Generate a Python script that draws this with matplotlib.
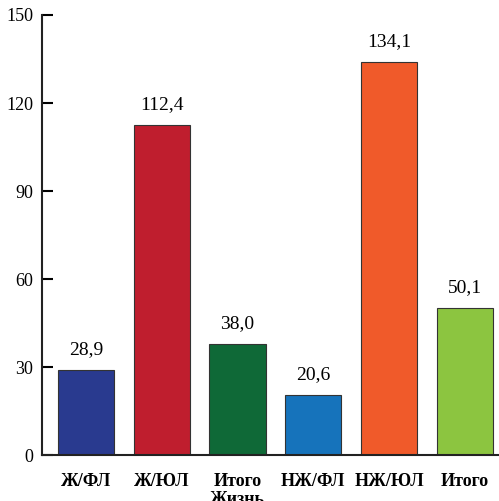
import numpy as np
import matplotlib.pyplot as plt
import matplotlib as mp

categories = ['Ж/ФЛ', 'Ж/ЮЛ', 'Итого\nЖизнь', 'НЖ/ФЛ', 'НЖ/ЮЛ', 'Итого']
values = [28.9, 112.4, 38.0, 20.6, 134.1, 50.1]
value_labels = ['28,9', '112,4', '38,0', '20,6', '134,1', '50,1']
colors = ['#293a8f', '#bf1e2e', '#0f6937', '#1673bb', '#f05a2a', '#8cc540']
yticks = [0, 30, 60, 90, 120, 150]

mp.rc('font', family='Liberation Serif')

fig = plt.figure(figsize=(4.99, 5.01), dpi=100)
ax = fig.add_axes([42/499, 46/501, 1 - 42/499, (455 - 15)/501])

x = np.arange(len(categories))
bars = ax.bar(x, values, width=0.74, color=colors, edgecolor='#333333', linewidth=0.8, zorder=2)

for xi, v, lab in zip(x, values, value_labels):
    ax.annotate(lab, xy=(xi, v), xytext=(0, 8.5), textcoords='offset points',
                ha='center', va='bottom', fontsize=14)

ax.set_xlim(-0.58, 5.45)
ax.set_ylim(0, 150)
ax.set_yticks(yticks)
ax.set_xticks(x)
ax.set_xticklabels(categories, fontsize=13, fontweight='bold', linespacing=1.05)
ax.tick_params(axis='x', length=0, pad=13)
ax.tick_params(axis='y', direction='in', length=8, width=1.5, pad=6.5, labelsize=13)

for s in ['top', 'right']:
    ax.spines[s].set_visible(False)
for s in ['left', 'bottom']:
    ax.spines[s].set_linewidth(1.5)
    ax.spines[s].set_color('#222222')

plt.savefig('out.png', dpi=100)
